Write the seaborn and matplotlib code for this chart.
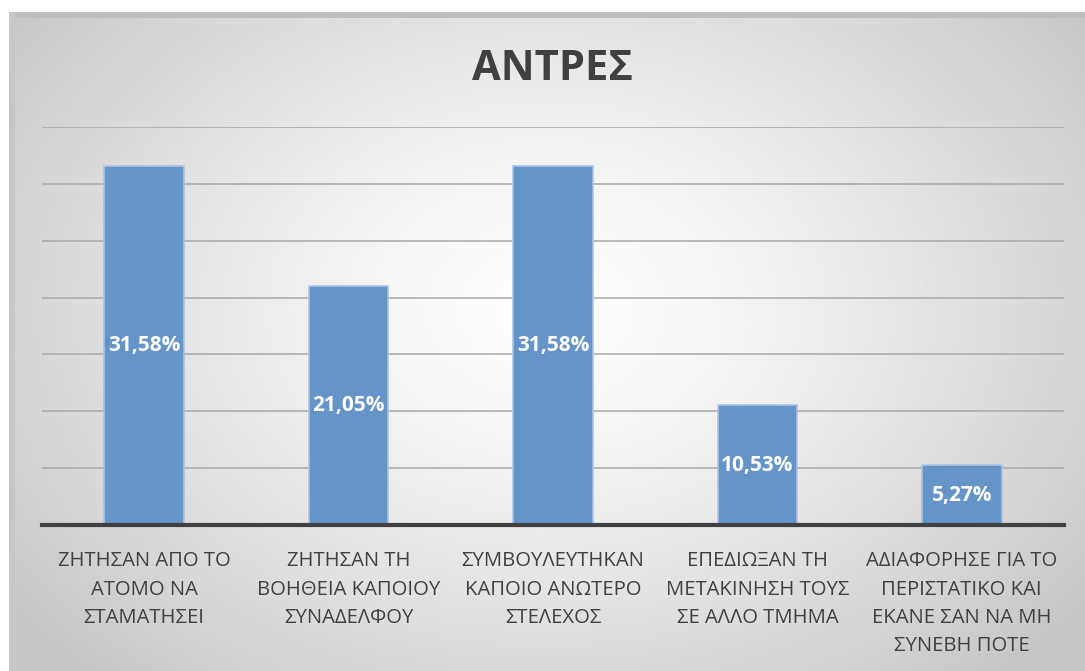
import matplotlib
matplotlib.use("Agg")
import matplotlib.pyplot as plt
import matplotlib.patches as mpatches
import seaborn as sns
import numpy as np
import pandas as pd

categories = [
    "ΖΗΤΗΣΑΝ ΑΠΟ ΤΟ\nΑΤΟΜΟ ΝΑ\nΣΤΑΜΑΤΗΣΕΙ",
    "ΖΗΤΗΣΑΝ ΤΗ\nΒΟΗΘΕΙΑ ΚΑΠΟΙΟΥ\nΣΥΝΑΔΕΛΦΟΥ",
    "ΣΥΜΒΟΥΛΕΥΤΗΚΑΝ\nΚΑΠΟΙΟ ΑΝΩΤΕΡΟ\nΣΤΕΛΕΧΟΣ",
    "ΕΠΕΔΙΩΞΑΝ ΤΗ\nΜΕΤΑΚΙΝΗΣΗ ΤΟΥΣ\nΣΕ ΑΛΛΟ ΤΜΗΜΑ",
    "ΑΔΙΑΦΟΡΗΣΕ ΓΙΑ ΤΟ\nΠΕΡΙΣΤΑΤΙΚΟ ΚΑΙ\nΕΚΑΝΕ ΣΑΝ ΝΑ ΜΗ\nΣΥΝΕΒΗ ΠΟΤΕ",
]
percentages = [31.58, 21.05, 31.58, 10.53, 5.27]
title = "ΑΝΤΡΕΣ"

df = pd.DataFrame({"category": categories, "pct": percentages})

sns.set_theme(style="white")
plt.rcParams["font.family"] = ["Open Sans", "DejaVu Sans"]

W, H = 1085, 671
fig = plt.figure(figsize=(W / 100, H / 100), dpi=100)
fig.patch.set_facecolor("white")

# radial gradient background of the chart area
bg = fig.add_axes([9 / W, 0, 1 - 9 / W, 1 - 12 / H], zorder=0)
gx, gy = np.meshgrid(np.linspace(0, 1, 400), np.linspace(0, 1, 300))
d = np.sqrt(((gx - 0.5) / 0.62) ** 2 + ((gy - 0.45) / 0.75) ** 2)
shade = 1.0 - 0.22 * np.clip(d, 0, 1) ** 1.3
bg.imshow(shade, cmap="gray", vmin=0, vmax=1, aspect="auto", extent=[0, 1, 0, 1], interpolation="bilinear")
bg.set_axis_off()

# shadow strips on top and left edge
fig.patches.append(mpatches.Rectangle((9 / W, 1 - 18 / H), 1, 6 / H, transform=fig.transFigure,
                                      facecolor="#bebebe", edgecolor="none", zorder=1))
fig.patches.append(mpatches.Rectangle((9 / W, 0), 6 / W, 1 - 12 / H, transform=fig.transFigure,
                                      facecolor="#c6c6c6", edgecolor="none", zorder=1))

ax = fig.add_axes([42 / W, 1 - 525 / H, (1064 - 42) / W, (525 - 127) / H], zorder=2)
ax.patch.set_alpha(0)

sns.barplot(data=df, x="category", y="pct", color="#6594c8", edgecolor="#a9c3e3",
            linewidth=1.2, width=0.39, saturation=1, ax=ax, zorder=3)

labels = [f"{v:.2f}%".replace(".", ",") for v in percentages]
ax.bar_label(ax.containers[0], labels=labels, label_type="center", color="white",
             fontsize=15, fontweight="bold")

ax.set_ylim(0, 35)
ax.set_xlim(-0.5, 4.5)
ax.set_yticks(np.arange(5, 36, 5))
ax.yaxis.grid(True, color="#a8a8a8", linewidth=1.1, zorder=1)
ax.set_axisbelow(True)
ax.tick_params(axis="y", left=False, labelleft=False)
ax.tick_params(axis="x", length=0, pad=19, labelsize=14.6, labelcolor="#404040")
for lbl in ax.get_xticklabels():
    lbl.set_linespacing(1.55)
ax.set_xlabel("")
ax.set_ylabel("")
for s in ["top", "left", "right"]:
    ax.spines[s].set_visible(False)
ax.spines["bottom"].set_color("#404040")
ax.spines["bottom"].set_linewidth(3)
ax.spines["bottom"].set_zorder(5)

fig.text(552 / W, 1 - 69 / H, title, ha="center", va="center", fontsize=30,
         fontweight="bold", color="#404040", zorder=3)

fig.savefig("out.png", dpi=100)
